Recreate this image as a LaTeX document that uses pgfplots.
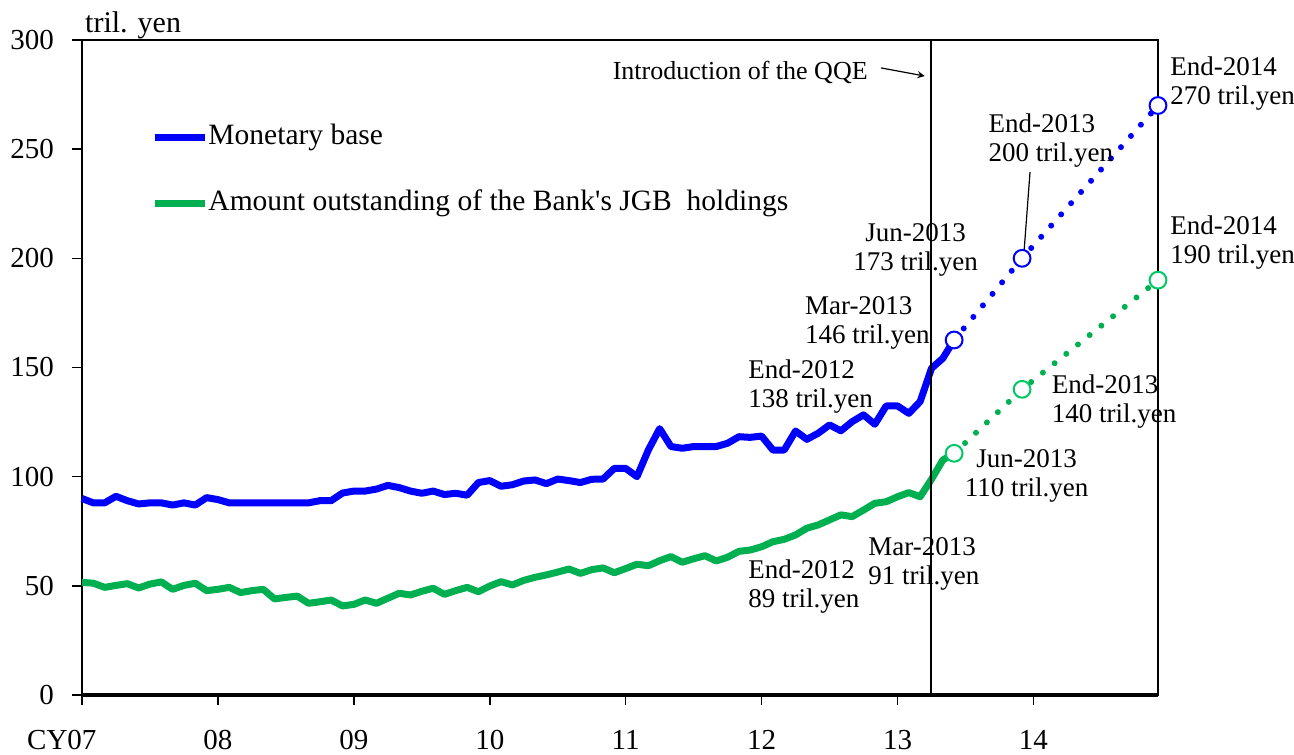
\documentclass[border=0pt]{standalone}
\usepackage{pgfplots}
\pgfplotsset{compat=1.18}
\usepackage{fontspec}
\setmainfont{Liberation Serif}
\definecolor{mbblue}{RGB}{0,0,255}
\definecolor{jgbgreen}{RGB}{0,176,80}
\definecolor{circgreen}{RGB}{0,200,100}
\pgfplotstableread{
i v
0 90
1 88
2 88
3 91
4 89
5 87.5
6 88
7 88
8 87
9 88
10 87
11 90.4
12 89.5
13 88
14 88
15 88
16 88
17 88
18 88
19 88
20 88
21 89
22 89
23 92.5
24 93.4
25 93.4
26 94.3
27 96
28 95
29 93.4
30 92.4
31 93.4
32 91.8
33 92.4
34 91.5
35 97.3
36 98.2
37 95.6
38 96.3
39 98
40 98.5
41 96.8
42 98.9
43 98.2
44 97.3
45 98.8
46 98.9
47 103.8
48 103.8
49 100
50 112.2
51 122
52 113.8
53 113
54 113.8
55 113.8
56 113.8
57 115.3
58 118.3
59 118
60 118.6
61 112.2
62 112.2
63 120.9
64 117.1
65 119.9
66 123.7
67 121
68 125.2
69 128.3
70 124
71 132.4
72 132.4
73 129
74 134.4
75 149.6
76 154.2
77 162.6
}\mbase
\pgfplotstableread{
i v
0 51.6
1 51.2
2 49.3
3 50.2
4 51
5 49
6 50.8
7 51.8
8 48.4
9 50.2
10 51.2
11 47.8
12 48.4
13 49.3
14 46.9
15 47.8
16 48.4
17 44
18 44.7
19 45.3
20 42
21 42.7
22 43.5
23 40.8
24 41.5
25 43.5
26 42
27 44.3
28 46.6
29 45.8
30 47.5
31 48.9
32 46.1
33 47.8
34 49.3
35 47.3
36 49.9
37 51.9
38 50.4
39 52.5
40 53.9
41 55
42 56.3
43 57.7
44 55.7
45 57.4
46 58.2
47 56
48 57.9
49 59.9
50 59.2
51 61.5
52 63.4
53 60.8
54 62.4
55 63.8
56 61.4
57 63.1
58 65.8
59 66.4
60 67.9
61 70.2
62 71.3
63 73.3
64 76.4
65 77.9
66 80.2
67 82.5
68 81.7
69 84.7
70 87.8
71 88.5
72 90.8
73 92.7
74 90.8
75 98.8
76 107.6
77 110.7
}\jgb
\begin{document}
\begin{tikzpicture}
\useasboundingbox (0,0) rectangle (647pt,377pt);
\begin{axis}[
  at={(41pt,29.5pt)}, anchor=south west,
  scale only axis, width=538pt, height=327.5pt,
  xmin=0, xmax=95, ymin=0, ymax=300,
  clip=false,
  axis line style={line width=0.8pt, black},
  xtick={0,12,24,36,48,60,72,84},
  xticklabels={\llap{CY}07,08,09,10,11,12,13,14},
  ytick={0,50,100,150,200,250,300},
  xtick pos=bottom, ytick pos=left,
  tick align=outside, major tick length=5pt,
  tick style={line width=0.8pt, black},
  /pgf/number format/assume math mode=true,
  tick label style={font=\fontsize{14.5}{16}\selectfont},
  xticklabel style={anchor=base, yshift=-22pt},
  yticklabel style={anchor=east, xshift=-5.5pt},
  legend cell align=left,
  legend style={draw=none, fill=none, at={(axis cs:5.57,240)}, anchor=west,
    font=\fontsize{14.75}{16}\selectfont, row sep=16pt,
    nodes={inner xsep=0pt, text height=10pt, text depth=3pt}},
  legend image code/.code={\draw[#1, line width=3.5pt] (0pt,0pt) -- (25pt,0pt);},
]
% projections
\addplot[mbblue, line width=3pt, line cap=round, dash pattern=on 0pt off 7.5pt, forget plot]
  coordinates {(77,162.6) (83,200) (95,270)};
\addplot[jgbgreen, line width=3pt, line cap=round, dash pattern=on 0pt off 7.5pt, forget plot]
  coordinates {(77,110.7) (83,140) (95,190)};
% actual
\addplot[mbblue, line width=3.5pt, line join=round] table[x=i, y=v] {\mbase};
\addlegendentry{Monetary base}
\addplot[jgbgreen, line width=3.5pt, line join=round] table[x=i, y=v] {\jgb};
\addlegendentry{Amount outstanding of the Bank{\addfontfeatures{Ligatures=TeXOff}'}s JGB\ \ holdings}
% circles
\addplot[only marks, mark=*, mark size=4.2pt, mark options={draw=mbblue, fill=white, line width=1pt}, forget plot]
  coordinates {(77,162.6) (83,200) (95,270)};
\addplot[only marks, mark=*, mark size=4.2pt, mark options={draw=circgreen, fill=white, line width=1pt}, forget plot]
  coordinates {(77,110.7) (83,140) (95,190)};
% frame details
\draw[line width=1.6pt] (axis cs:0,0) -- (axis cs:95,0);
\draw[line width=1pt] (axis cs:75,0) -- (axis cs:75,300);
\node[anchor=west, font=\fontsize{15}{16}\selectfont, inner sep=0pt] at (axis cs:0.25,306.9) {tril. yen};
% annotations
\begin{scope}[every node/.style={font=\fontsize{13.5}{14.5}\selectfont, inner sep=0pt}]
\node[anchor=east, font=\fontsize{13}{14}\selectfont] at (axis cs:69.4,285.3) {Introduction of the QQE};
\draw[-stealth, line width=0.6pt] (axis cs:70.55,287.2) -- (axis cs:74.4,283.5);
\node[anchor=west, align=left] at (axis cs:96.06,279.9) {End-2014\\270 tril.yen};
\node[anchor=west, align=left] at (axis cs:80.0,254.0) {End-2013\\200 tril.yen};
\draw[line width=0.6pt] (axis cs:83.7,239.5) -- (axis cs:83.17,202.9);
\node[align=center] at (axis cs:73.6,204.0) {Jun-2013\\173 tril.yen};
\node[anchor=west, align=left] at (axis cs:63.8,170.2) {Mar-2013\\146 tril.yen};
\node[anchor=west, align=left] at (axis cs:58.8,141.5) {End-2012\\138 tril.yen};
\node[anchor=west, align=left] at (axis cs:58.8,49.9) {End-2012\\89 tril.yen};
\node[anchor=west, align=left] at (axis cs:69.4,60.0) {Mar-2013\\91 tril.yen};
\node[align=center] at (axis cs:83.4,100.3) {Jun-2013\\110 tril.yen};
\node[anchor=west, align=left] at (axis cs:85.6,134.2) {End-2013\\140 tril.yen};
\node[anchor=west, align=left] at (axis cs:96.06,207.3) {End-2014\\190 tril.yen};
\end{scope}
\end{axis}
\end{tikzpicture}
\end{document}
